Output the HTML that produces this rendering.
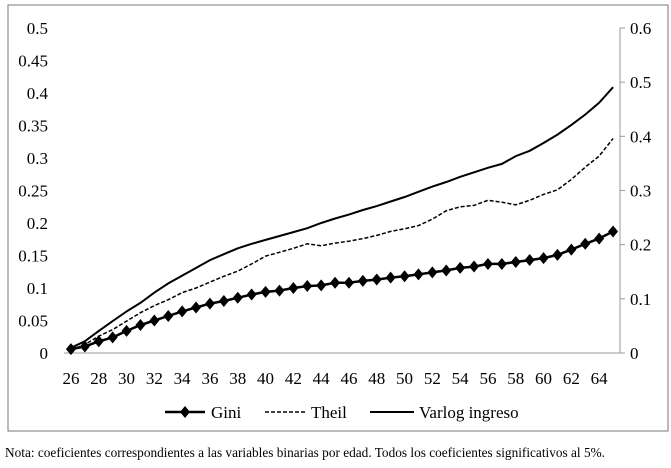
<!DOCTYPE html>
<html><head><meta charset="utf-8"><style>
body{margin:0;background:#fff;width:671px;height:463px;overflow:hidden}
</style></head><body>
<svg width="671" height="463" id="c" font-family="'Liberation Serif','Times New Roman',serif">
<rect x="8" y="5" width="660" height="426" fill="none" stroke="#777" stroke-width="1"/>
<text x="5" y="457" font-size="14" textLength="600" lengthAdjust="spacingAndGlyphs" font-family="'Liberation Serif','Times New Roman',serif">Nota: coeficientes correspondientes a las variables binarias por edad. Todos los coeficientes significativos al 5%.</text>
</svg>
<script>
const ages=[];for(let a=26;a<=65;a++)ages.push(a);
const leftTicks=["0","0.05","0.1","0.15","0.2","0.25","0.3","0.35","0.4","0.45","0.5"];
const rightTicks=["0","0.1","0.2","0.3","0.4","0.5","0.6"];
const gini=[0.006,0.01,0.018,0.024,0.034,0.043,0.05,0.057,0.064,0.07,0.076,0.08,0.085,0.09,0.094,0.096,0.1,0.103,0.104,0.108,0.108,0.111,0.113,0.116,0.118,0.121,0.124,0.127,0.131,0.133,0.137,0.137,0.14,0.143,0.146,0.151,0.159,0.168,0.176,0.187];
const theil=[0.005,0.013,0.026,0.036,0.049,0.062,0.073,0.082,0.093,0.1,0.109,0.118,0.126,0.137,0.149,0.155,0.161,0.168,0.165,0.169,0.172,0.176,0.181,0.187,0.191,0.196,0.206,0.219,0.225,0.227,0.235,0.232,0.228,0.235,0.244,0.251,0.267,0.286,0.303,0.33];
const varlog=[0.008,0.018,0.034,0.049,0.064,0.077,0.093,0.107,0.119,0.131,0.143,0.152,0.161,0.168,0.174,0.18,0.186,0.192,0.2,0.207,0.213,0.22,0.226,0.233,0.24,0.248,0.256,0.263,0.271,0.278,0.285,0.291,0.303,0.311,0.323,0.336,0.351,0.367,0.385,0.409];
const svg=document.getElementById('c'),NS='http://www.w3.org/2000/svg';
const FF="'Liberation Serif','Times New Roman',serif";
const X0=64,X1=620,Y0=353,Y1=28;
const band=(X1-X0)/ages.length;
const x=i=>X0+band*(i+0.5);
const y=v=>Y0-(v/0.5)*(Y0-Y1);
const yr=v=>Y0-(v/0.6)*(Y0-Y1);
function mk(t,at){const e=document.createElementNS(NS,t);for(const k in at)e.setAttribute(k,at[k]);if(t==='text')e.setAttribute('font-family',FF);svg.appendChild(e);return e;}
let ax=mk('line',{x1:X0,y1:Y0,x2:X1,y2:Y0,stroke:'#999'});


let ar=mk('line',{x1:X1,y1:Y1,x2:X1,y2:Y0,stroke:'#999'});


rightTicks.forEach(t=>{const yy=yr(parseFloat(t));
 let tk=mk('line',{x1:X1,y1:yy,x2:X1+5,y2:yy,stroke:'#999'});
 
 
 let e=mk('text',{x:630,y:yy+6,'font-size':17});e.textContent=t;
 
 });
leftTicks.forEach(t=>{const yy=y(parseFloat(t));
 let e=mk('text',{x:48,y:yy+6,'font-size':17,'text-anchor':'end'});e.textContent=t;
 
 });
ages.forEach((a,i)=>{if(a%2==0&&a<=64){let e=mk('text',{x:x(i),y:384,'font-size':17,'text-anchor':'middle'});e.textContent=a;
 
 }});
function path(arr){return arr.map((v,i)=>(i?'L':'M')+x(i).toFixed(1)+' '+y(v).toFixed(1)).join(' ');}
let pv=mk('path',{d:path(varlog),fill:'none',stroke:'#000','stroke-width':2});


let pt=mk('path',{d:path(theil),fill:'none',stroke:'#000','stroke-width':1.5,'stroke-dasharray':'4 2'});


let pg=mk('path',{d:path(gini),fill:'none',stroke:'#000','stroke-width':2.5});


function dia(cx,cy){return `M${cx} ${cy-6}L${cx+5} ${cy}L${cx} ${cy+6}L${cx-5} ${cy}Z`;}
gini.forEach((v,i)=>{let m=mk('path',{d:dia(x(i),y(v)),fill:'#000'});
 
 });
const LY=412;
let l1=mk('line',{x1:165,y1:LY,x2:205,y2:LY,stroke:'#000','stroke-width':2.5});


let l1m=mk('path',{d:dia(185,LY),fill:'#000'});


let l2=mk('line',{x1:265,y1:LY,x2:305,y2:LY,stroke:'#000','stroke-width':1.5,'stroke-dasharray':'4 2'});


let l3=mk('line',{x1:370,y1:LY,x2:414,y2:LY,stroke:'#000','stroke-width':2});


[['Gini',211,'legend-gini-label'],['Theil',311,'legend-theil-label'],['Varlog ingreso',419,'legend-varlog-label']].forEach(([t,xx,n])=>{
 let e=mk('text',{x:xx,y:LY+6,'font-size':17});e.textContent=t;
 
 });
</script>
</body></html>
